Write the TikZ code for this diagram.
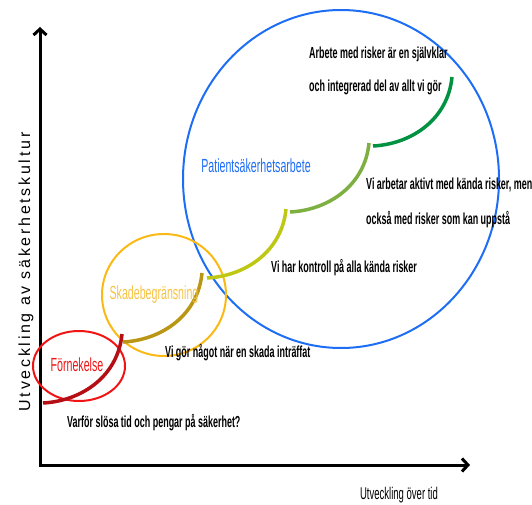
\documentclass[tikz,border=0pt]{standalone}
\usepackage{fontspec}
\setmainfont{Liberation Sans}
\newfontfamily\narrowfont{Liberation Sans}[FakeStretch=0.56]
\newfontfamily\spacedfont{Liberation Sans}[LetterSpace=17]
\usetikzlibrary{arrows.meta,positioning}
\definecolor{riskblue}{RGB}{30,110,245}
\definecolor{damageorange}{RGB}{250,185,20}
\definecolor{damagetext}{RGB}{245,195,70}
\definecolor{denialred}{RGB}{240,20,20}
\definecolor{stepred}{RGB}{180,15,20}
\definecolor{stepolive}{RGB}{185,150,20}
\definecolor{steplime}{RGB}{190,200,20}
\definecolor{steplight}{RGB}{125,175,65}
\definecolor{stepgreen}{RGB}{0,145,65}
\tikzset{%
  >={Straight Barb[length=6pt,width=13pt]},
  % Specifications for style of lines and nodes:
       axis/.style = {line width=3pt, <->},
       ring/.style = {line width=2pt},
      stair/.style = {line width=3.5pt},
       note/.style = {anchor=west, inner sep=0pt, align=left,
                      font=\narrowfont\bfseries\fontsize{16}{33}\selectfont},
      stage/.style = {inner sep=0pt, font=\narrowfont\fontsize{19}{21}\selectfont},
}

\begin{document}
\begin{tikzpicture}[x=1pt, y=-1pt]
  \useasboundingbox (0,0) rectangle (532,505);
  % Axes
  \coordinate (ytip) at (40,27);
  \coordinate (origin) at (40,465);
  \coordinate (xtip) at (470,465);
  \draw[axis] (ytip) -- (origin) -- (xtip);
  \node (ylabel) [rotate=90, font=\spacedfont\fontsize{16}{18}\selectfont] at (26,272) {Utveckling av säkerhetskultur};
  \node (xlabel) [font=\narrowfont\fontsize{17}{19}\selectfont] at (399,495) {Utveckling över tid};
  % Stage circles
  \draw[ring, riskblue] (341,179) ellipse [x radius=158pt, y radius=169pt];
  \draw[ring, damageorange] (164,295) ellipse [x radius=62pt, y radius=61pt];
  \draw[ring, denialred] (79,366) ellipse [x radius=46pt, y radius=35pt];
  % Stairs
  \foreach \sx/\sy/\col in {43/403/stepred, 123/342/stepolive, 207/278/steplime,
                            290/212/steplight, 373/146/stepgreen}
    \draw[stair, \col] (\sx,\sy) .. controls ({\sx+39},{\sy-2}) and ({\sx+75},{\sy-27}) .. ({\sx+79},{\sy-69});
  % Stage names
  \node (patient) [stage, text=riskblue] at (256,166) {Patientsäkerhetsarbete};
  \node (damage) [stage, text=damagetext] at (154,295) {Skadebegränsning};
  \node (denial) [stage, text=denialred] at (77,365) {Förnekelse};
  % Descriptions
  \node (top note) [note] at (309,71) {Arbete med risker är en självklar\\och integrerad del av allt vi gör};
  \node (active note) [note] at (366,203) {Vi arbetar aktivt med kända risker, men\\[2pt]också med risker som kan uppstå};
  \node (control note) [note] at (271,268) {Vi har kontroll på alla kända risker};
  \node (damage note) [note] at (165,353) {Vi gör något när en skada inträffat};
  \node (denial note) [note] at (67,423) {Varför slösa tid och pengar på säkerhet?};
\end{tikzpicture}
\end{document}
